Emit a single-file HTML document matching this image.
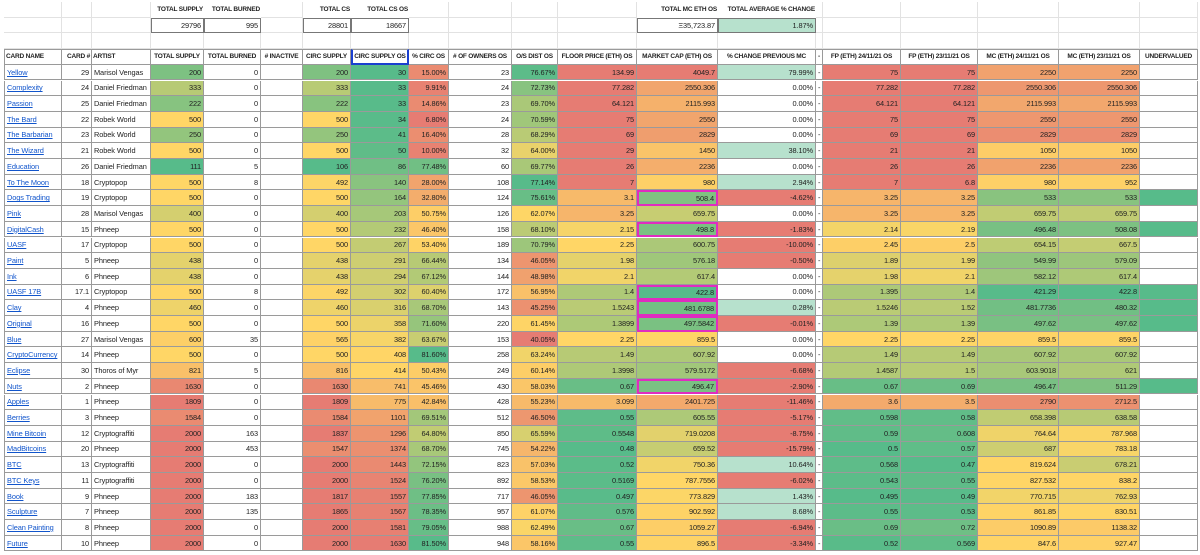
<!DOCTYPE html>
<html><head><meta charset="utf-8">
<style>
html,body{margin:0;padding:0;background:#fff;}
#sheet{position:relative;width:1200px;height:555px;overflow:hidden;font-family:"Liberation Sans",sans-serif;font-size:7.4px;color:#222;letter-spacing:-0.1px;}
.c{position:absolute;box-sizing:border-box;white-space:nowrap;overflow:hidden;display:flex;align-items:center;justify-content:flex-end;padding:0 2px;}
.g{border-right:1px solid #e2e2e2;border-bottom:1px solid #e2e2e2;}
.t{border-right:1px solid #9a9a9a;border-bottom:1px solid #9a9a9a;}
.h{font-weight:bold;font-size:6.5px;letter-spacing:-0.2px;justify-content:center;padding:0 1px;}
.l{justify-content:flex-start;}
.lnk{color:#1155cc;text-decoration:underline;}
</style></head>
<body>
<div id="sheet"></div>
<script>
const colX=[4,62,92,151,204,261,303,351,409,449,512,558,637,718,816,823,901,978,1059,1140,1198];
const rowH=15.7, top0=2;
const headers=["CARD NAME","CARD #","ARTIST","TOTAL SUPPLY","TOTAL BURNED","# INACTIVE","CIRC SUPPLY","CIRC SUPPLY OS","% CIRC OS","# OF OWNERS OS","O/S DIST OS","FLOOR PRICE (ETH) OS","MARKET CAP (ETH) OS","% CHANGE PREVIOUS MC","-","FP (ETH) 24/11/21 OS","FP (ETH) 23/11/21 OS","MC (ETH) 24/11/21 OS","MC (ETH) 23/11/21 OS","UNDERVALUED"];
const cardNames=["Yellow","Complexity","Passion","The Bard","The Barbarian","The Wizard","Education","To The Moon","Dogs Trading","Pink","DigitalCash","UASF","Paint","Ink","UASF 17B","Clay","Original","Blue","CryptoCurrency","Eclipse","Nuts","Apples","Berries","Mine Bitcoin","MadBitcoins","BTC","BTC Keys","Book","Sculpture","Clean Painting","Future"];
const cardNums=[29,24,25,22,23,21,26,18,19,28,15,17,5,6,17.1,4,16,27,14,30,2,1,3,12,20,13,11,9,7,8,10];
const artists=["Marisol Vengas","Daniel Friedman","Daniel Friedman","Robek World","Robek World","Robek World","Daniel Friedman","Cryptopop","Cryptopop","Marisol Vengas","Phneep","Cryptopop","Phneep","Phneep","Cryptopop","Phneep","Phneep","Marisol Vengas","Phneep","Thoros of Myr","Phneep","Phneep","Phneep","Cryptograffiti","Phneep","Cryptograffiti","Cryptograffiti","Phneep","Phneep","Phneep","Phneep"];
const totalSupply=[200,333,222,500,250,500,111,500,500,400,500,500,438,438,500,460,500,600,500,821,1630,1809,1584,2000,2000,2000,2000,2000,2000,2000,2000];
const burned=[0,0,0,0,0,0,5,8,0,0,0,0,0,0,8,0,0,35,0,5,0,0,0,163,453,0,0,183,135,0,0];
const circSupply=[200,333,222,500,250,500,106,492,500,400,500,500,438,438,492,460,500,565,500,816,1630,1809,1584,1837,1547,2000,2000,1817,1865,2000,2000];
const circOS=[30,33,33,34,41,50,86,140,164,203,232,267,291,294,302,316,358,382,408,414,741,775,1101,1296,1374,1443,1524,1557,1567,1581,1630];
const pctCirc=[15.00,9.91,14.86,6.80,16.40,10.00,77.48,28.00,32.80,50.75,46.40,53.40,66.44,67.12,60.40,68.70,71.60,63.67,81.60,50.43,45.46,42.84,69.51,64.80,68.70,72.15,76.20,77.85,78.35,79.05,81.50];
const owners=[23,24,23,24,28,32,60,108,124,126,158,189,134,144,172,143,220,153,258,249,430,428,512,850,745,823,892,717,957,988,948];
const osDist=[76.67,72.73,69.70,70.59,68.29,64.00,69.77,77.14,75.61,62.07,68.10,70.79,46.05,48.98,56.95,45.25,61.45,40.05,63.24,60.14,58.03,55.23,46.50,65.59,54.22,57.03,58.53,46.05,61.07,62.49,58.16];
const floorPrice=[134.99,77.282,64.121,75,69,29,26,7,3.1,3.25,2.15,2.25,1.98,2.1,1.4,1.5243,1.3899,2.25,1.49,1.3998,0.67,3.099,0.55,0.5548,0.48,0.52,0.5169,0.497,0.576,0.67,0.55];
const marketCap=[4049.7,2550.306,2115.993,2550,2829,1450,2236,980,508.4,659.75,498.8,600.75,576.18,617.4,422.8,481.6788,497.5842,859.5,607.92,579.5172,496.47,2401.725,605.55,719.0208,659.52,750.36,787.7556,773.829,902.592,1059.27,896.5];
const pctChange=[79.99,0,0,0,0,38.10,0,2.94,-4.62,0,-1.83,-10.00,-0.50,0,0,0.28,-0.01,0,0,-6.68,-2.90,-11.46,-5.17,-8.75,-15.79,10.64,-6.02,1.43,8.68,-6.94,-3.34];
const fp24=[75,77.282,64.121,75,69,21,26,7,3.25,3.25,2.14,2.45,1.89,1.98,1.395,1.5246,1.39,2.25,1.49,1.4587,0.67,3.6,0.598,0.59,0.5,0.568,0.543,0.495,0.55,0.69,0.52];
const fp23=[75,77.282,64.121,75,69,21,26,6.8,3.25,3.25,2.19,2.5,1.99,2.1,1.4,1.52,1.39,2.25,1.49,1.5,0.69,3.5,0.58,0.608,0.57,0.47,0.55,0.49,0.53,0.72,0.569];
const mc24=[2250,2550.306,2115.993,2550,2829,1050,2236,980,533,659.75,496.48,654.15,549.99,582.12,421.29,481.7736,497.62,859.5,607.92,603.9018,496.47,2790,658.398,764.64,687,819.624,827.532,770.715,861.85,1090.89,847.6];
const mc23=[2250,2550.306,2115.993,2550,2829,1050,2236,952,533,659.75,508.08,667.5,579.09,617.4,422.8,480.32,497.62,859.5,607.92,621,511.29,2712.5,638.58,787.968,783.18,678.21,838.2,762.93,830.51,1138.32,927.47];
const undervalued=[0,0,0,0,0,0,0,0,1,0,1,0,0,0,1,1,1,0,0,0,1,0,0,0,0,0,0,0,0,0,0];

const G=[87,187,138],Y=[255,214,102],R=[230,124,115];
function mix(a,b,t){t=Math.max(0,Math.min(1,t));return 'rgb('+a.map((v,i)=>Math.round(v+(b[i]-v)*t)).join(',')+')';}
function scale(v,min,mid,max,rev){let lo=rev?R:G,hi=rev?G:R;return v<=mid?mix(lo,Y,(v-min)/(mid-min)):mix(Y,hi,(v-mid)/(max-mid));}
const S=document.getElementById('sheet');
function cell(ci,span,row,txt,cls,bg,name,inter){
  const d=document.createElement('div');
  d.className='c '+(cls||'');
  d.style.left=colX[ci]+'px';d.style.width=(colX[ci+span]-colX[ci])+'px';
  d.style.top=(top0+row*rowH)+'px';d.style.height=rowH+'px';
  if(bg)d.style.background=bg;
  d.textContent=txt;
  
  
  S.appendChild(d);return d;
}
for(let r=0;r<3;r++){for(let ci=0;ci<20;ci++){cell(ci,1,r,'','g',null,'grid-cell',false);}}
const lb=[[3,'TOTAL SUPPLY','29796'],[4,'TOTAL BURNED','995'],[6,'TOTAL CS','28801'],[7,'TOTAL CS OS','18667'],[12,'TOTAL MC ETH OS','Ξ35,723.87'],[13,'TOTAL AVERAGE % CHANGE','1.87%']];
lb.forEach(([ci,l,v])=>{
  const a=cell(ci,1,0,l,'h','#fff','summary-label',false);a.style.justifyContent='flex-end';
  const b=cell(ci,1,1,v,'',ci==13?'#b7e1cd':'#fff','summary-value',false);b.style.border='1px solid #777';
});
headers.forEach((h,i)=>{
  const d=cell(i,1,3,h,'t h','#fff','column-header',false);
  if(i==0||i==2)d.style.justifyContent='flex-start';
  if(i==1)d.style.justifyContent='flex-end';
  if(i==7){d.style.border='2px solid #1a3fd0';}
  if(i==0)d.style.borderLeft='1px solid #9a9a9a';
  d.style.borderTop='1px solid #9a9a9a';
});
const pct=v=>v.toFixed(2)+'%';
cardNames.forEach((n,k)=>{
  const r=4+k;
  const a=cell(0,1,r,'','t l','#fff','card-name-cell',true);a.style.borderLeft='1px solid #9a9a9a';
  const s=document.createElement('span');s.className='lnk';s.textContent=n;
  
  
  a.appendChild(s);
  cell(1,1,r,String(cardNums[k]),'t','#fff','card-number',false);
  cell(2,1,r,artists[k],'t l','#fff','artist',false);
  cell(3,1,r,String(totalSupply[k]),'t',scale(totalSupply[k],111,500,1800),'total-supply',false);
  cell(4,1,r,String(burned[k]),'t','#fff','total-burned',false);
  cell(5,1,r,'','t','#fff','inactive',false);
  cell(6,1,r,String(circSupply[k]),'t',scale(circSupply[k],106,500,1800),'circ-supply',false);
  cell(7,1,r,String(circOS[k]),'t',scale(circOS[k],30,400,1630),'circ-supply-os',false);
  cell(8,1,r,pct(pctCirc[k]),'t',scale(pctCirc[k],6.8,55,81.6,true),'pct-circ-os',false);
  cell(9,1,r,String(owners[k]),'t','#fff','owners-os',false);
  cell(10,1,r,pct(osDist[k]),'t',scale(osDist[k],40,62,77.14,true),'os-dist',false);
  cell(11,1,r,String(floorPrice[k]),'t',scale(floorPrice[k],0.48,2.25,5),'floor-price',false);
  const m=cell(12,1,r,String(marketCap[k]),'t',scale(marketCap[k],422,780,4049.7),'market-cap',false);
  if(undervalued[k])m.style.border='2px solid #e02cc0';
  const pc=pctChange[k];
  cell(13,1,r,pct(pc),'t',pc>0?'#b7e1cd':(pc<0?'#e67c73':'#fff'),'pct-change',false);
  cell(14,1,r,'-','t l','#fff','dash',false);
  cell(15,1,r,String(fp24[k]),'t',scale(fp24[k],0.495,2.25,5),'fp-24',false);
  cell(16,1,r,String(fp23[k]),'t',scale(fp23[k],0.47,2.25,5),'fp-23',false);
  cell(17,1,r,String(mc24[k]),'t',scale(mc24[k],421,800,3300),'mc-24',false);
  cell(18,1,r,String(mc23[k]),'t',scale(mc23[k],422,800,3300),'mc-23',false);
  cell(19,1,r,'','t',undervalued[k]?'#57bb8a':'#fff','undervalued',false);
});
</script>
</body></html>
